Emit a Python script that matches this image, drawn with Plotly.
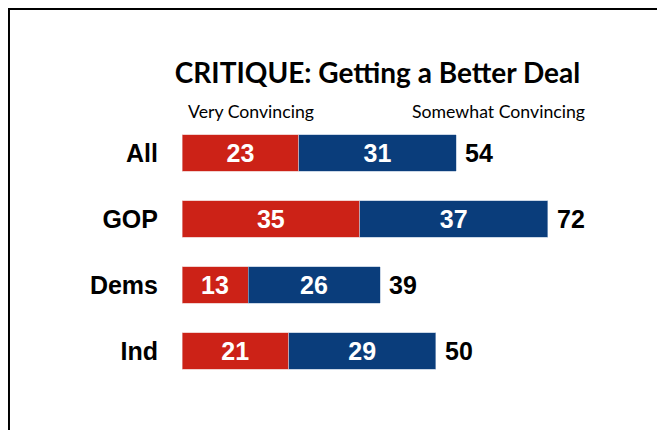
import plotly.graph_objects as go

categories = ["All", "GOP", "Dems", "Ind"]
very = [23, 35, 13, 21]
somewhat = [31, 37, 26, 29]
totals = [54, 72, 39, 50]

RED = "#CC2217"
BLUE = "#0A3D7B"

fig = go.Figure()
fig.add_trace(go.Bar(
    y=categories, x=very, orientation="h", name="Very Convincing",
    marker=dict(color=RED, line=dict(width=0.6, color="#E8B4B0")),
    text=very, textposition="inside", insidetextanchor="middle",
    constraintext="none",
    textfont=dict(color="white", size=25, family="Liberation Sans, Arial", weight="bold"),
))
fig.add_trace(go.Bar(
    y=categories, x=somewhat, orientation="h", name="Somewhat Convincing",
    marker=dict(color=BLUE, line=dict(width=0.6, color="#A9BCD6")),
    text=somewhat, textposition="inside", insidetextanchor="middle",
    constraintext="none",
    textfont=dict(color="white", size=25, family="Liberation Sans, Arial", weight="bold"),
))

annotations = []
for c, t in zip(categories, totals):
    annotations.append(dict(
        x=t, y=c, xref="x", yref="y", text=str(t), showarrow=False,
        xanchor="left", yanchor="middle", xshift=7,
        font=dict(size=25, color="black", family="Liberation Sans, Arial", weight="bold"),
    ))

annotations.append(dict(
    x=0.0087, y=1.034, xref="paper", yref="paper", text="Very Convincing",
    showarrow=False, xanchor="left", yanchor="middle",
    font=dict(size=17.7, color="black", family="Lato"),
))
annotations.append(dict(
    x=0.499, y=1.034, xref="paper", yref="paper", text="Somewhat Convincing",
    showarrow=False, xanchor="left", yanchor="middle",
    font=dict(size=17.7, color="black", family="Lato"),
))

fig.update_layout(
    width=657, height=422,
    barmode="stack", bargap=0.447,
    showlegend=False,
    plot_bgcolor="white", paper_bgcolor="white",
    margin=dict(l=174, r=26, t=112, b=46),
    title=dict(
        text="CRITIQUE: Getting a Better Deal",
        xref="container", yref="container",
        x=0.5624, xanchor="center", y=0.846, yanchor="middle",
        font=dict(size=28, color="black", family="Lato", weight="bold"),
    ),
    xaxis=dict(range=[0, 90], visible=False, fixedrange=True),
    yaxis=dict(
        autorange="reversed", showgrid=False, zeroline=False, showline=False,
        ticks="", ticklabelstandoff=23,
        tickfont=dict(size=25, color="black", family="Liberation Sans, Arial", weight="bold"),
    ),
    annotations=annotations,
    shapes=[dict(
        type="rect", xref="paper", yref="paper",
        x0=-0.3786, x1=1.5, y0=-1.0, y1=1.4205,
        line=dict(color="black", width=2), fillcolor="rgba(0,0,0,0)",
        layer="below",
    )],
)

fig.write_html("out.html")
